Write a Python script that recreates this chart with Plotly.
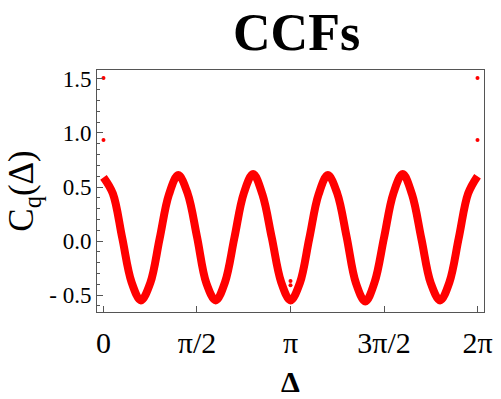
import numpy as np
import plotly.graph_objects as go

# Delta sample positions (in units of pi/20) and read CCF values
delta_steps = list(range(0, 41))
ccf_values = [0.59, 0.44, 0.03, -0.38, -0.55, -0.39, 0.02, 0.43,
              0.61, 0.44, 0.04, -0.39, -0.55, -0.38, 0.03, 0.44,
              0.62, 0.43, 0.03, -0.38, -0.55, -0.39, 0.02, 0.43,
              0.61, 0.44, 0.04, -0.39, -0.56, -0.38, 0.03, 0.44,
              0.62, 0.43, 0.02, -0.39, -0.55, -0.38, 0.03, 0.44, 0.60]

# Outlier points
out_delta = [0.0, 0.0, np.pi, np.pi, 2*np.pi, 2*np.pi]
out_values = [1.51, 0.935, -0.37, -0.41, 1.51, 0.935]

x_tickvals = [0, np.pi/2, np.pi, 3*np.pi/2, 2*np.pi]
x_ticktext = ["0", "π/2", "π", "3π/2", "2π"]
y_tickvals = [-0.5, 0.0, 0.5, 1.0, 1.5]
y_ticktext = ["- 0.5", "0.0", "0.5", "1.0", "1.5"]

delta = [k*np.pi/20 for k in delta_steps]

red = "#FF0000"
fig = go.Figure()
fig.add_trace(go.Scatter(x=delta, y=ccf_values, mode="lines",
                         line=dict(color=red, width=8, shape="spline", smoothing=1.0),
                         showlegend=False, hoverinfo="skip"))
fig.add_trace(go.Scatter(x=out_delta, y=out_values, mode="markers",
                         marker=dict(color=red, size=4), showlegend=False))

font_family = "Liberation Serif, Times New Roman, serif"
frame = "#555555"
fig.update_layout(
    width=501, height=399,
    margin=dict(l=97, r=17, t=70, b=87),
    paper_bgcolor="white", plot_bgcolor="white",
    font=dict(family=font_family, color="black"),
    title=dict(text="<b>CCFs</b>", x=0.592, xanchor="center", y=0.92, yanchor="middle",
               font=dict(size=52, family=font_family, color="black")),
    xaxis=dict(range=[-0.109, 2*np.pi + 0.109], tickvals=x_tickvals, ticktext=x_ticktext,
               showgrid=False, zeroline=False, showline=True, linecolor=frame, linewidth=1,
               mirror=True, ticks="inside", ticklen=6, tickcolor=frame, automargin=False,
               tickfont=dict(size=30, family=font_family), ticklabelstandoff=4,
               title=dict(text="<b>Δ</b>", font=dict(size=30, family=font_family), standoff=12)),
    yaxis=dict(range=[-0.657, 1.583], tickvals=y_tickvals, ticktext=y_ticktext,
               showgrid=False, zeroline=False, showline=True, linecolor=frame, linewidth=1,
               mirror=True, ticks="inside", ticklen=6, tickcolor=frame, automargin=False,
               tickfont=dict(size=23, family=font_family),
               minor=dict(ticks="inside", ticklen=3, tickcolor=frame, dtick=0.1, tick0=0),
               title=dict(text="C<sub>q</sub>(Δ)", font=dict(size=35, family=font_family), standoff=4)),
)

fig.write_html("out.html")
